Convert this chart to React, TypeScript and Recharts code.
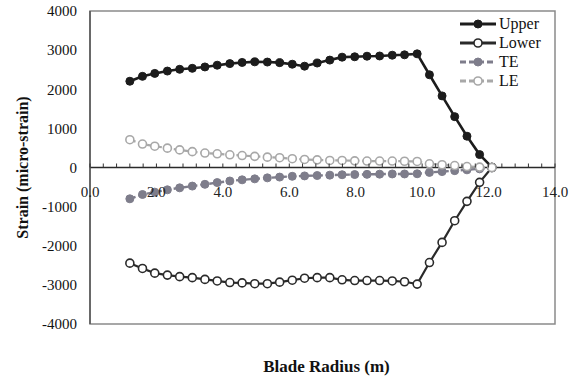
import React from 'react';
import {
  LineChart,
  Line,
  XAxis,
  YAxis,
  Legend,
  ReferenceLine,
  ReferenceArea,
} from 'recharts';

// blade radius stations (m)
const radius = [
  1.2, 1.58, 1.95, 2.33, 2.7, 3.08, 3.46, 3.83, 4.21, 4.58, 4.96, 5.34, 5.71, 6.09, 6.46,
  6.84, 7.22, 7.59, 7.97, 8.34, 8.72, 9.1, 9.47, 9.85, 10.22, 10.6, 10.98, 11.35, 11.73, 12.1,
];

// strain values (micro-strain)
const upper = [
  2205, 2330, 2405, 2465, 2510, 2535, 2570, 2615, 2655, 2685, 2700, 2695, 2680, 2640, 2590,
  2670, 2745, 2820, 2830, 2845, 2850, 2870, 2880, 2905, 2370, 1830, 1300, 800, 330, 10,
];
const lower = [
  -2445, -2580, -2700, -2750, -2790, -2815, -2860, -2900, -2940, -2950, -2970, -2970, -2930, -2880, -2830,
  -2815, -2815, -2870, -2890, -2890, -2890, -2900, -2920, -2980, -2430, -1915, -1360, -865, -380, 0,
];
const te = [
  -800, -690, -630, -570, -520, -475, -430, -385, -345, -315, -290, -265, -245, -225, -215,
  -205, -195, -185, -180, -175, -170, -165, -165, -160, -125, -105, -80, -60, -35, -10,
];
const le = [
  710, 600, 545, 495, 450, 405, 370, 350, 325, 305, 285, 265, 250, 225, 205,
  195, 180, 180, 170, 165, 165, 165, 160, 155, 95, 70, 50, 25, 10, 0,
];

const yTicks = [-4000, -3000, -2000, -1000, 0, 1000, 2000, 3000, 4000];
const xLabelTicks = [0, 2, 4, 6, 8, 10, 12, 14];
// minor ticks every 0.4 m
const xTicks = Array.from({ length: 36 }, (_, k) => Number((k * 0.4).toFixed(1)));

const data = radius.map((r, i) => ({
  r,
  upper: upper[i],
  lower: lower[i],
  te: te[i],
  le: le[i],
}));

const FONT = '"Liberation Serif", "Times New Roman", serif';
const W = 572;
const H = 376;
const MARGIN = { top: 11, right: 17, left: 0, bottom: 0 };
const X_AXIS_H = 52;
const ZERO_Y = MARGIN.top + (H - MARGIN.top - MARGIN.bottom - X_AXIS_H) / 2;

const series = [
  { key: 'upper', label: 'Upper', color: '#1c1c1c', width: 2.6, dash: undefined, open: false },
  { key: 'lower', label: 'Lower', color: '#2a2a2a', width: 2.2, dash: undefined, open: true },
  { key: 'te', label: 'TE', color: '#7e7d8b', width: 2.4, dash: '6 3', open: false },
  { key: 'le', label: 'LE', color: '#a8a8a8', width: 2.2, dash: '6 3', open: true },
];

// x ticks sit on the zero line, not on the bottom of the plot
const ZeroTick = (props: any) => {
  const { x, payload } = props;
  const v = payload.value as number;
  const major = xLabelTicks.some((t) => Math.abs(t - v) < 1e-6);
  return (
    <g>
      <line x1={x} x2={x} y1={ZERO_Y} y2={ZERO_Y - 4} stroke="#333" strokeWidth={1} />
      {major && (
        <text
          x={x}
          y={ZERO_Y + 24}
          textAnchor="middle"
          dominantBaseline="central"
          fontFamily={FONT}
          fontSize={15}
          fill="#222"
        >
          {v.toFixed(1)}
        </text>
      )}
    </g>
  );
};

const renderLegend = () => (
  <div style={{ fontFamily: FONT, fontSize: 16, color: '#111' }}>
    {series.map((s) => (
      <div key={s.key} style={{ display: 'flex', alignItems: 'center', height: 19 }}>
        <svg width={37} height={12} style={{ marginRight: 2 }}>
          <line
            x1={0}
            x2={36}
            y1={6}
            y2={6}
            stroke={s.color}
            strokeWidth={3}
            strokeDasharray={s.dash}
          />
          <circle
            cx={18}
            cy={6}
            r={4}
            fill={s.open ? '#fff' : s.color}
            stroke={s.color}
            strokeWidth={s.open ? 1.6 : 1}
          />
        </svg>
        <span>{s.label}</span>
      </div>
    ))}
  </div>
);

export default function App() {
  return (
    <div style={{ position: 'absolute', left: 0, top: 0, width: W, height: H, fontFamily: FONT }}>
      <LineChart width={W} height={H} data={data} margin={MARGIN}>
        <ReferenceArea
          x1={0}
          x2={14}
          y1={-4000}
          y2={4000}
          fill="none"
          stroke="#8a8a8a"
          strokeWidth={1.5}
        />
        <XAxis
          dataKey="r"
          type="number"
          domain={[0, 14]}
          ticks={xTicks}
          interval={0}
          tick={<ZeroTick />}
          axisLine={false}
          tickLine={false}
          height={X_AXIS_H}
          label={{
            value: 'Blade Radius (m)',
            position: 'insideBottom',
            offset: 4,
            dx: 4,
            fontFamily: FONT,
            fontSize: 17,
            fontWeight: 'bold',
            fill: '#111',
          }}
        />
        <YAxis
          type="number"
          domain={[-4000, 4000]}
          ticks={yTicks}
          interval={0}
          width={90}
          tickSize={0}
          tickMargin={13}
          axisLine={{ stroke: '#555', strokeWidth: 1.5 }}
          tickLine={false}
          tick={{ fontFamily: FONT, fontSize: 15, fill: '#111' }}
          label={(props: any) => {
            const vb = props.viewBox || { x: 0, y: 0, height: 0 };
            const cx = vb.x + 22;
            const cy = vb.y + vb.height / 2;
            return (
              <text
                x={cx}
                y={cy}
                transform={`rotate(-90, ${cx}, ${cy})`}
                textAnchor="middle"
                dominantBaseline="central"
                fontFamily={FONT}
                fontSize={16}
                fontWeight="bold"
                fill="#111"
              >
                Strain (micro-strain)
              </text>
            );
          }}
        />
        <ReferenceLine y={0} stroke="#2a2a2a" strokeWidth={1.3} />
        <Legend
          content={renderLegend}
          layout="vertical"
          align="center"
          verticalAlign="middle"
          wrapperStyle={{ position: 'absolute', left: 460, top: 14, width: 110 }}
        />
        {series.map((s) => (
          <Line
            key={s.key}
            dataKey={s.key}
            type="linear"
            stroke={s.color}
            strokeWidth={s.width}
            strokeDasharray={s.dash}
            dot={{
              r: 4,
              fill: s.open ? '#fff' : s.color,
              stroke: s.color,
              strokeWidth: s.open ? 1.6 : 1,
              strokeDasharray: '',
            }}
            isAnimationActive={false}
          />
        ))}
      </LineChart>
    </div>
  );
}
